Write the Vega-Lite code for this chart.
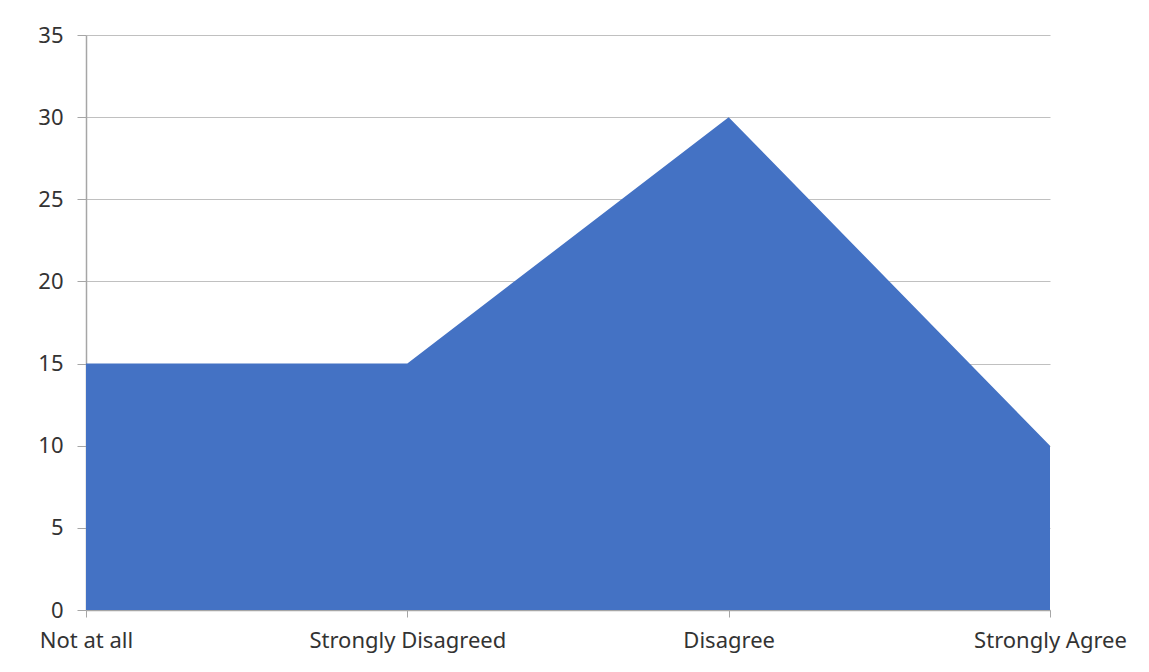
{
  "$schema": "https://vega.github.io/schema/vega-lite/v6.json",
  "width": 964,
  "height": 575,
  "autosize": {"type": "none"},
  "padding": {"left": 86, "top": 35, "right": 99, "bottom": 62},
  "background": "white",
  "config": {
    "view": {"stroke": null},
    "font": "Noto Sans",
    "axis": {
      "labelFont": "Noto Sans",
      "labelFontSize": 22,
      "labelLimit": 400,
      "labelColor": "#333333",
      "domainColor": "#a6a6a6",
      "tickColor": "#a6a6a6",
      "gridColor": "#c0c0c0",
      "title": null
    }
  },
  "data": {
    "values": [
      {"response": "Not at all", "count": 15},
      {"response": "Strongly Disagreed", "count": 15},
      {"response": "Disagree", "count": 30},
      {"response": "Strongly Agree", "count": 10}
    ]
  },
  "mark": {"type": "area", "color": "#4472C4", "opacity": 1},
  "encoding": {
    "x": {
      "field": "response",
      "type": "ordinal",
      "sort": null,
      "scale": {"type": "point", "padding": 0},
      "axis": {
        "labelAngle": 0,
        "grid": false,
        "tickSize": 7,
        "labelPadding": 13,
        "domainWidth": 1.5
      }
    },
    "y": {
      "field": "count",
      "type": "quantitative",
      "scale": {"domain": [0, 35], "nice": false},
      "axis": {
        "values": [0, 5, 10, 15, 20, 25, 30, 35],
        "grid": true,
        "tickSize": 9,
        "labelPadding": 14,
        "domainWidth": 1.5
      }
    }
  }
}
